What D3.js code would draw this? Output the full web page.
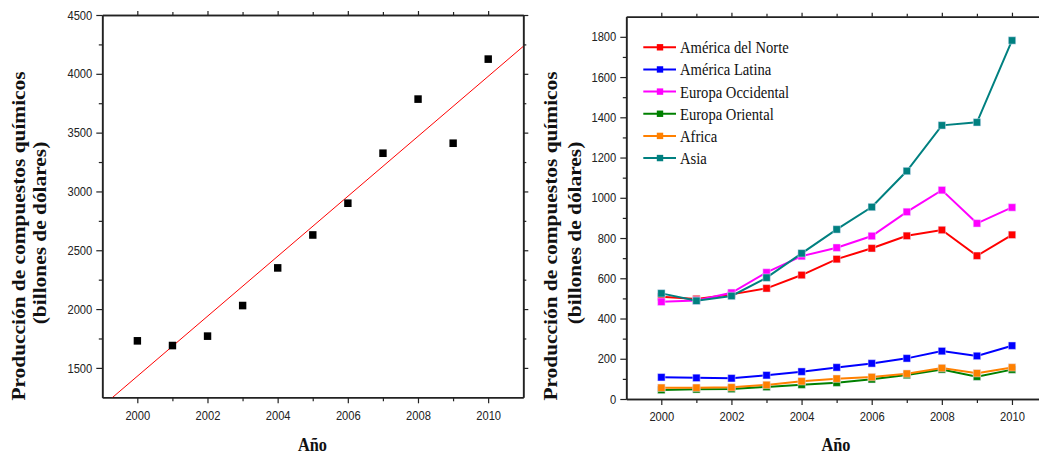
<!DOCTYPE html>
<meta charset="utf-8">
<style>
  body { margin: 0; background: #fff; }
  svg { display: block; }
  path, line, rect { vector-effect: non-scaling-stroke; }
  .tick text { font-family: "Liberation Sans", Arial, sans-serif; font-size: 13px; fill: #222; }
  .axis path, .axis line { stroke: #222; }
</style>
<body>
<svg id="chart"></svg>
<script src="https://d3js.org/d3.v7.min.js"></script>
<script>

// ---- data ----
var years = [2000, 2001, 2002, 2003, 2004, 2005, 2006, 2007, 2008, 2009, 2010];

// total production (left panel)
var totalProd = [1730, 1690, 1770, 2030, 2350, 2630, 2900, 3325, 3785, 3410, 4125];

// by region (right panel)
var regionNames = ["América del Norte", "América Latina", "Europa Occidental", "Europa Oriental", "Africa", "Asia"];
var regionColors = ["#ff0000", "#0000ff", "#ff00ff", "#008000", "#ff8000", "#008080"];
var northAmerica = [508, 497, 520, 550, 616, 695, 749, 811, 840, 712, 816];
var latinAmerica = [108, 105, 103, 118, 136, 157, 177, 202, 238, 214, 265];
var westEurope   = [483, 490, 528, 629, 710, 752, 810, 930, 1038, 873, 952];
var eastEurope   = [45, 48, 50, 60, 71, 81, 98, 119, 147, 111, 146];
var africa       = [56, 56, 58, 70, 88, 101, 109, 126, 154, 128, 157];
var asia         = [525, 488, 512, 603, 724, 843, 954, 1133, 1360, 1375, 1782];
var regionValues = [northAmerica, latinAmerica, westEurope, eastEurope, africa, asia];

var majorYears = [2000, 2002, 2004, 2006, 2008, 2010];
var minorYears = [2001, 2003, 2005, 2007, 2009];
var leftMajor = [1500, 2000, 2500, 3000, 3500, 4000, 4500];
var leftMinor = [1750, 2250, 2750, 3250, 3750, 4250];
var rightMajor = [0, 200, 400, 600, 800, 1000, 1200, 1400, 1600, 1800];
var rightMinor = [100, 300, 500, 700, 900, 1100, 1300, 1500, 1700];

var yTitle1 = "Producción de compuestos químicos";
var yTitle2 = "(billones de dólares)";
var xTitle = "Año";

// ---- layout ----
// the original figure is squeezed sideways, so draw in a wider box and squash it
var SX = 0.86;
var W = 1039, H = 456;
function sx(px) { return px / SX; }

var svg = d3.select("#chart")
    .attr("width", W).attr("height", H)
    .attr("viewBox", "0 0 " + (W / SX) + " " + H)
    .attr("preserveAspectRatio", "none");

var xL = d3.scaleLinear().domain([1999, 2011]).range([sx(102.3), sx(523.3)]);
var yL = d3.scaleLinear().domain([1250, 4500]).range([397.3, 15]);
var xR = d3.scaleLinear().domain([1999, 2011]).range([sx(626.3), sx(1047.1)]);
var yR = d3.scaleLinear().domain([0, 1900]).range([399, 16.7]);

function frame(x, y, yMaj, yMin) {
  var x0 = x.range()[0], x1 = x.range()[1], y0 = y.range()[0], y1 = y.range()[1];
  var g = svg.append("g").attr("class", "axis");

  g.append("g").attr("transform", "translate(0," + y0 + ")")
    .call(d3.axisBottom(x).tickValues(majorYears).tickFormat(d3.format("d"))
      .tickSizeInner(6).tickSizeOuter(0).tickPadding(7));
  g.append("g").attr("transform", "translate(0," + y0 + ")")
    .call(d3.axisBottom(x).tickValues(minorYears).tickFormat("").tickSizeInner(4).tickSizeOuter(0));
  g.append("g").attr("transform", "translate(0," + y1 + ")")
    .call(d3.axisTop(x).tickValues(majorYears).tickFormat("").tickSizeInner(4).tickSizeOuter(0));
  g.append("g").attr("transform", "translate(0," + y1 + ")")
    .call(d3.axisTop(x).tickValues(minorYears).tickFormat("").tickSizeInner(3).tickSizeOuter(0));

  g.append("g").attr("transform", "translate(" + x0 + ",0)")
    .call(d3.axisLeft(y).tickValues(yMaj).tickFormat(d3.format("d"))
      .tickSizeInner(sx(6)).tickSizeOuter(0).tickPadding(sx(4)));
  g.append("g").attr("transform", "translate(" + x0 + ",0)")
    .call(d3.axisLeft(y).tickValues(yMin).tickFormat("").tickSizeInner(sx(3.5)).tickSizeOuter(0));
  g.append("g").attr("transform", "translate(" + x1 + ",0)")
    .call(d3.axisRight(y).tickValues(yMaj).tickFormat("").tickSizeInner(sx(5)).tickSizeOuter(0));
  g.append("g").attr("transform", "translate(" + x1 + ",0)")
    .call(d3.axisRight(y).tickValues(yMin).tickFormat("").tickSizeInner(sx(3)).tickSizeOuter(0));

  g.selectAll(".domain").attr("stroke-width", 1.6);
  g.selectAll(".tick line").attr("stroke-width", 1.2);
}

function titles(base1, base2, cy, axCx) {
  var t = svg.append("g")
    .style("font-family", "'Liberation Serif', 'Times New Roman', serif")
    .style("font-weight", "bold").attr("fill", "#111");
  t.append("text").attr("text-anchor", "middle")
    .attr("transform", "translate(" + sx(base1) + "," + cy + ") rotate(-90)")
    .style("font-size", "21.4px").text(yTitle1);
  t.append("text").attr("text-anchor", "middle")
    .attr("transform", "translate(" + sx(base2) + "," + (cy - 3) + ") rotate(-90)")
    .style("font-size", "21.4px").text(yTitle2);
  t.append("text").attr("text-anchor", "middle")
    .attr("x", sx(axCx)).attr("y", 451)
    .style("font-size", "19px").text(xTitle);
}

// ---- left panel ----
frame(xL, yL, leftMajor, leftMinor);

svg.append("clipPath").attr("id", "clipL").append("rect")
  .attr("x", xL.range()[0]).attr("y", yL.range()[1])
  .attr("width", xL.range()[1] - xL.range()[0])
  .attr("height", yL.range()[0] - yL.range()[1]);

// least squares line through the points
var mx = d3.mean(years), my = d3.mean(totalProd);
var slope = d3.sum(years, function(d, i) { return (d - mx) * (totalProd[i] - my); }) /
            d3.sum(years, function(d) { return (d - mx) * (d - mx); });
var fitX = xL.domain();
svg.append("line")
  .attr("clip-path", "url(#clipL)")
  .attr("x1", xL(fitX[0])).attr("y1", yL(my + slope * (fitX[0] - mx)))
  .attr("x2", xL(fitX[1])).attr("y2", yL(my + slope * (fitX[1] - mx)))
  .attr("stroke", "#ff0000").attr("stroke-width", 1);

svg.append("g").selectAll("rect")
  .data(years).enter().append("rect")
  .attr("x", function(d) { return xL(d) - sx(3.7); })
  .attr("y", function(d, i) { return yL(totalProd[i]) - 3.8; })
  .attr("width", sx(7.4)).attr("height", 7.6)
  .attr("fill", "#000");

titles(24.5, 46, 236, 312.5);

// ---- right panel ----
frame(xR, yR, rightMajor, rightMinor);

var line = d3.line()
  .x(function(d) { return xR(d[0]); })
  .y(function(d) { return yR(d[1]); });

regionValues.forEach(function(vals, k) {
  var pts = years.map(function(y, i) { return [y, vals[i]]; });
  var g = svg.append("g");
  g.append("path").datum(pts).attr("d", line)
    .attr("fill", "none").attr("stroke", regionColors[k]).attr("stroke-width", 2);
  g.selectAll("rect").data(pts).enter().append("rect")
    .attr("x", function(d) { return xR(d[0]) - sx(3.7); })
    .attr("y", function(d) { return yR(d[1]) - 3.7; })
    .attr("width", sx(7.4)).attr("height", 7.4)
    .attr("fill", regionColors[k])
    .attr("stroke", "#e8e8ff").attr("stroke-opacity", 0.6).attr("stroke-width", 0.8);
});

// legend
var leg = svg.append("g").selectAll("g")
  .data(regionNames).enter().append("g")
  .attr("transform", function(d, i) { return "translate(0," + (47.3 + i * 22.15) + ")"; });
leg.append("line")
  .attr("x1", sx(643.3)).attr("x2", sx(676)).attr("y1", 0).attr("y2", 0)
  .attr("stroke", function(d, i) { return regionColors[i]; }).attr("stroke-width", 2);
leg.append("rect")
  .attr("x", sx(660 - 3.2)).attr("y", -3.2)
  .attr("width", sx(6.4)).attr("height", 6.4)
  .attr("fill", function(d, i) { return regionColors[i]; });
leg.append("text")
  .attr("x", sx(680)).attr("y", 6)
  .style("font-family", "'Liberation Serif', 'Times New Roman', serif")
  .style("font-size", "17px").attr("fill", "#111")
  .text(function(d) { return d; });

titles(557, 581, 236, 836);

</script>
</body>
